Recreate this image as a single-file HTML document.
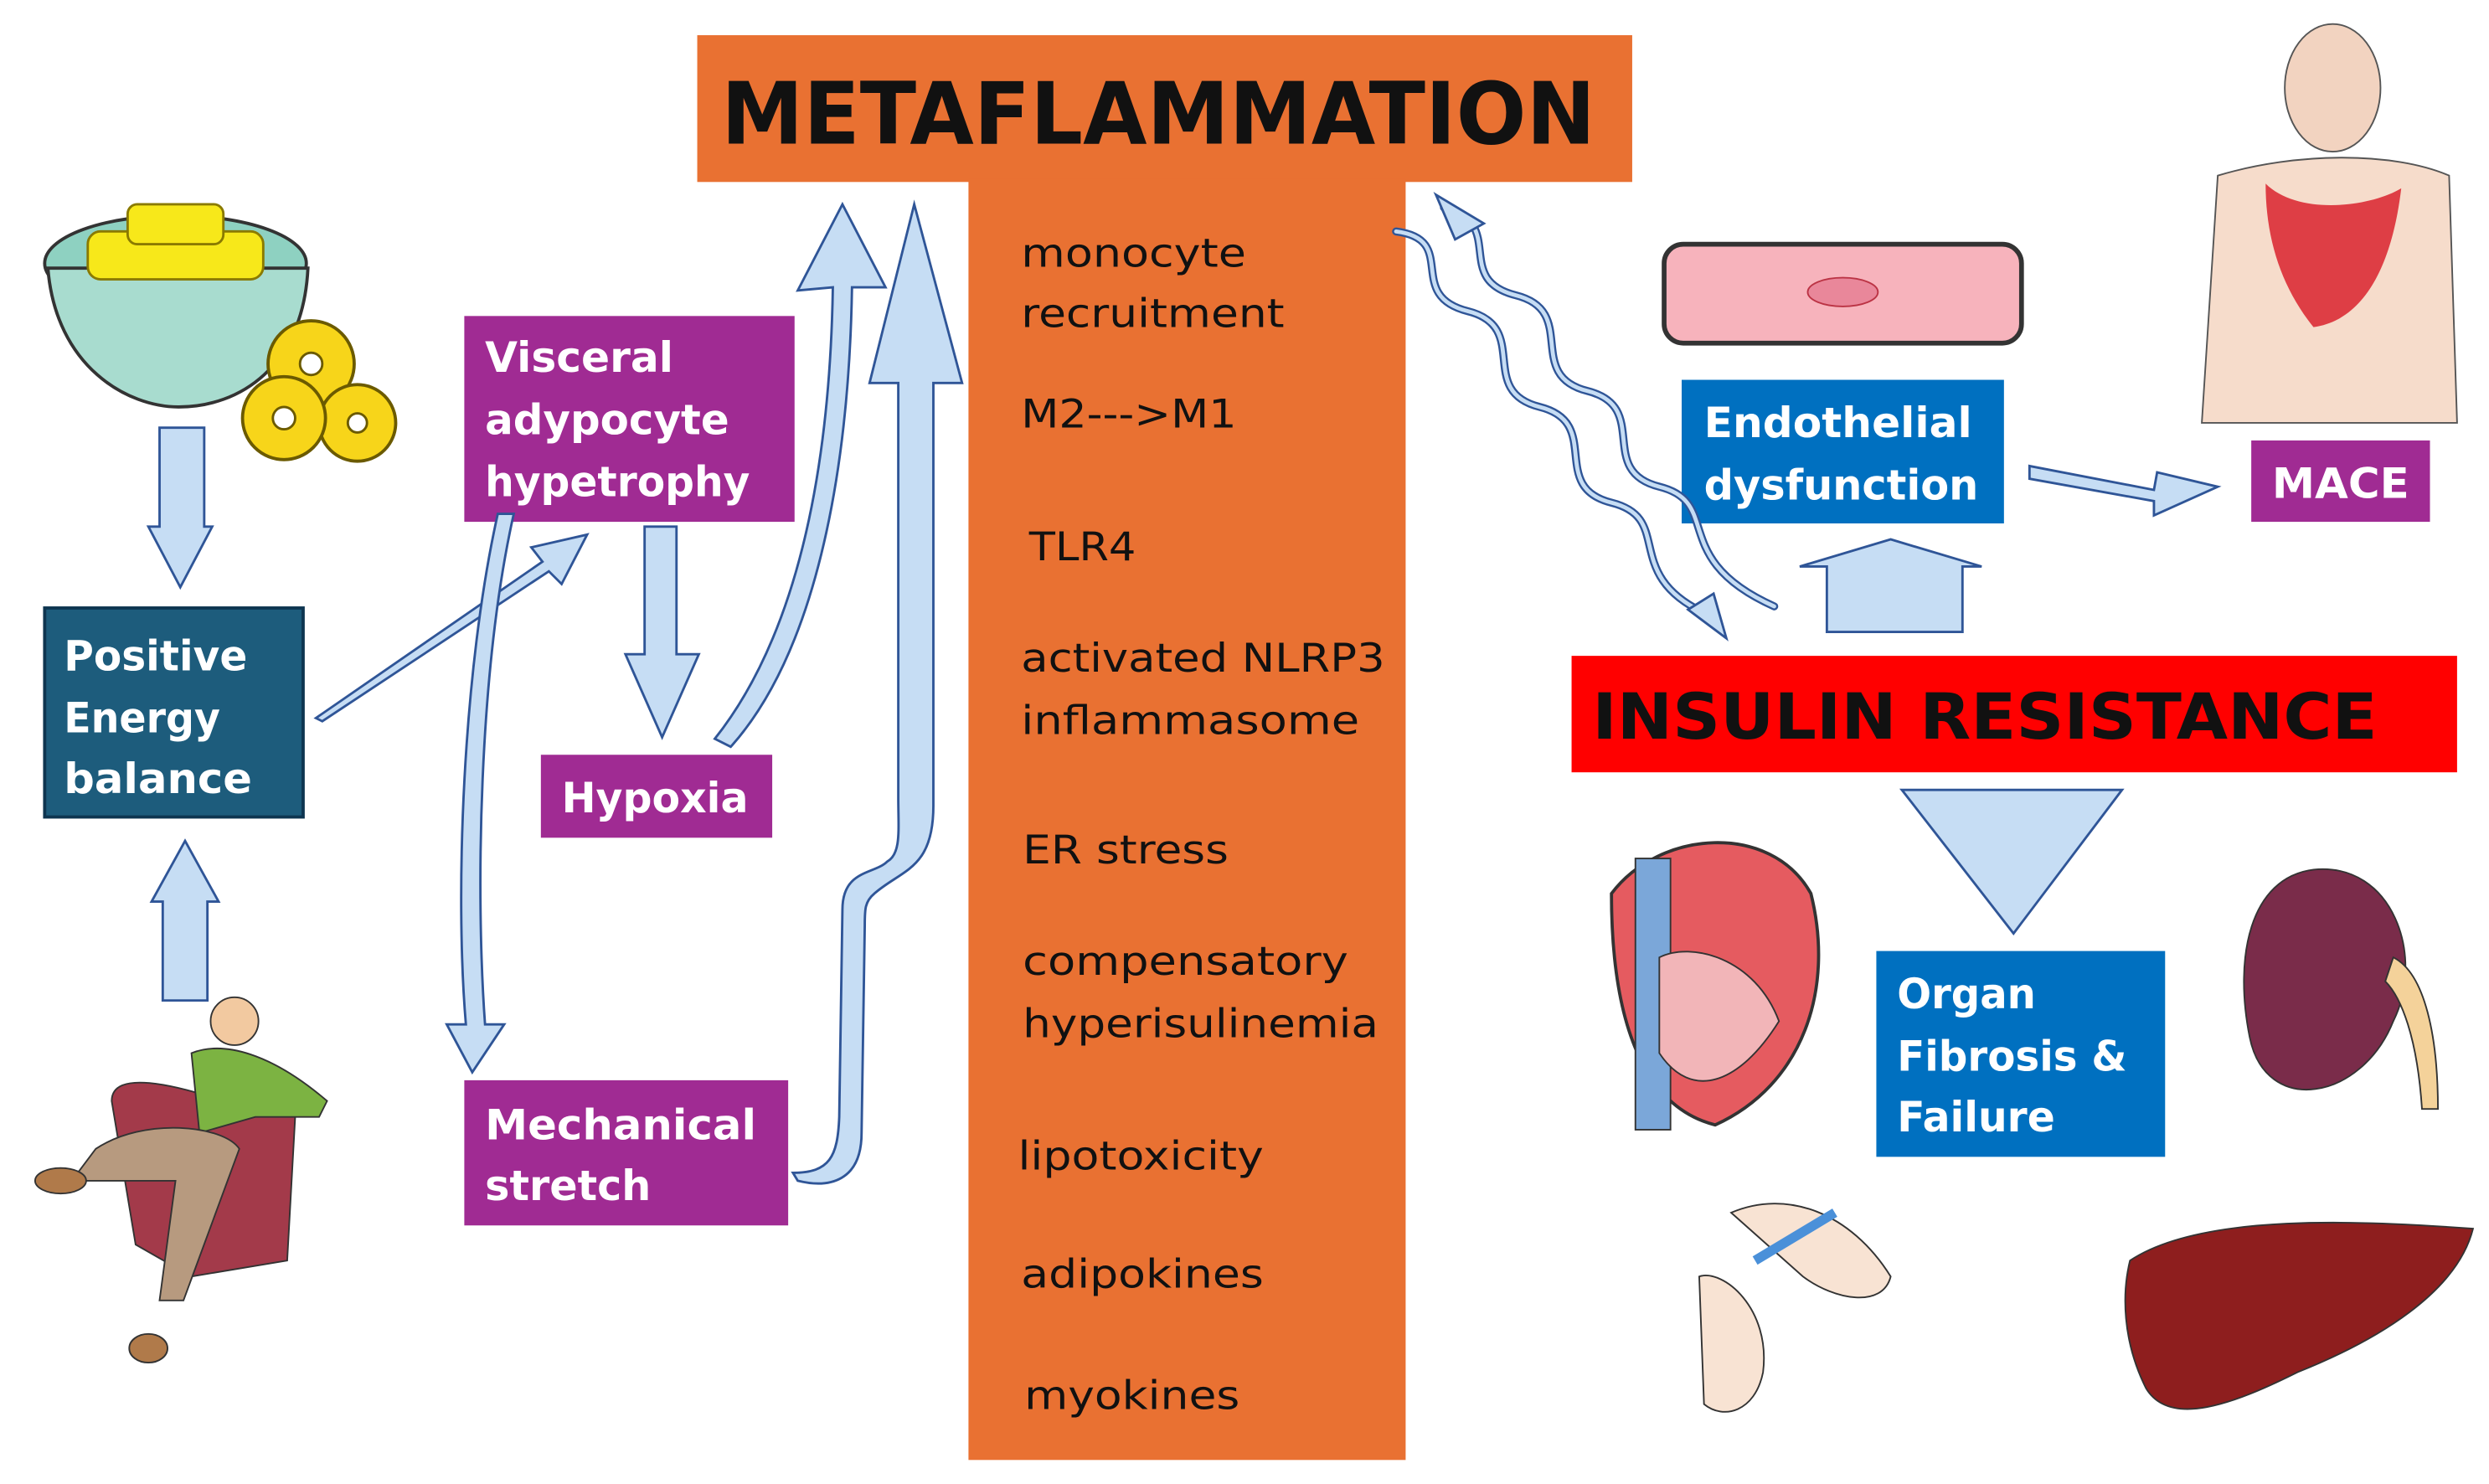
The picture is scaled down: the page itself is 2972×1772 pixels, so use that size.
<!DOCTYPE html>
<html><head><meta charset="utf-8"><style>
html,body{margin:0;padding:0;background:#fff;}
svg{display:block;}
text{font-family:"DejaVu Sans","Liberation Sans",sans-serif;}
</style></head><body>
<svg width="2972" height="1772" viewBox="0 0 1560 930" xmlns="http://www.w3.org/2000/svg">
<rect width="1560" height="930" fill="#fff"/>
<rect x="437" y="22" width="586" height="92" fill="#E97132"/>
<rect x="607" y="112" width="274" height="803" fill="#E97132"/>
<text x="452" y="90" font-size="54" font-weight="bold" fill="#111" textLength="548" lengthAdjust="spacingAndGlyphs">METAFLAMMATION</text>
<g font-size="25" fill="#111">
<text x="640" y="167" textLength="141" lengthAdjust="spacingAndGlyphs">monocyte</text>
<text x="640" y="205" textLength="165" lengthAdjust="spacingAndGlyphs">recruitment</text>
<text x="640" y="268" textLength="135" lengthAdjust="spacingAndGlyphs">M2---&gt;M1</text>
<text x="645" y="351" textLength="67" lengthAdjust="spacingAndGlyphs">TLR4</text>
<text x="640" y="421" textLength="228" lengthAdjust="spacingAndGlyphs">activated NLRP3</text>
<text x="640" y="460" textLength="212" lengthAdjust="spacingAndGlyphs">inflammasome</text>
<text x="641" y="541" textLength="129" lengthAdjust="spacingAndGlyphs">ER stress</text>
<text x="641" y="611" textLength="204" lengthAdjust="spacingAndGlyphs">compensatory</text>
<text x="641" y="650" textLength="223" lengthAdjust="spacingAndGlyphs">hyperisulinemia</text>
<text x="638" y="733" textLength="154" lengthAdjust="spacingAndGlyphs">lipotoxicity</text>
<text x="640" y="807" textLength="152" lengthAdjust="spacingAndGlyphs">adipokines</text>
<text x="642" y="883" textLength="135" lengthAdjust="spacingAndGlyphs">myokines</text>
</g>
<rect x="985" y="411" width="555" height="73" fill="#FF0000"/>
<text x="998" y="463" font-size="40" font-weight="bold" fill="#111" textLength="492" lengthAdjust="spacingAndGlyphs">INSULIN RESISTANCE</text>
<g fill="#A02B93">
<rect x="291" y="198" width="207" height="129"/>
<rect x="339" y="473" width="145" height="52"/>
<rect x="291" y="677" width="203" height="91"/>
<rect x="1411" y="276" width="112" height="51"/>
</g>
<g fill="#fff" font-weight="bold" font-size="26">
<text x="304" y="233" textLength="118" lengthAdjust="spacingAndGlyphs">Visceral</text>
<text x="304" y="272" textLength="153" lengthAdjust="spacingAndGlyphs">adypocyte</text>
<text x="304" y="311" textLength="166" lengthAdjust="spacingAndGlyphs">hypetrophy</text>
<text x="352" y="509" textLength="117" lengthAdjust="spacingAndGlyphs">Hypoxia</text>
<text x="304" y="714" textLength="170" lengthAdjust="spacingAndGlyphs">Mechanical</text>
<text x="304" y="752" textLength="104" lengthAdjust="spacingAndGlyphs">stretch</text>
<text x="1424" y="312" textLength="86" lengthAdjust="spacingAndGlyphs">MACE</text>
</g>
<rect x="28" y="381" width="162" height="131" fill="#1D5C7C" stroke="#0E3550" stroke-width="2"/>
<g fill="#fff" font-weight="bold" font-size="26">
<text x="40" y="420" textLength="115" lengthAdjust="spacingAndGlyphs">Positive</text>
<text x="40" y="459" textLength="98" lengthAdjust="spacingAndGlyphs">Energy</text>
<text x="40" y="497" textLength="118" lengthAdjust="spacingAndGlyphs">balance</text>
</g>
<rect x="1054" y="238" width="202" height="90" fill="#0070C0"/>
<g fill="#fff" font-weight="bold" font-size="26">
<text x="1068" y="274" textLength="168" lengthAdjust="spacingAndGlyphs">Endothelial</text>
<text x="1068" y="313" textLength="172" lengthAdjust="spacingAndGlyphs">dysfunction</text>
</g>
<rect x="1176" y="596" width="181" height="129" fill="#0070C0"/>
<g fill="#fff" font-weight="bold" font-size="26">
<text x="1189" y="632" textLength="87" lengthAdjust="spacingAndGlyphs">Organ</text>
<text x="1189" y="671" textLength="144" lengthAdjust="spacingAndGlyphs">Fibrosis &amp;</text>
<text x="1189" y="709" textLength="99" lengthAdjust="spacingAndGlyphs">Failure</text>
</g>
<g fill="#C6DDF4" stroke="#2F5597" stroke-width="1.5" stroke-linejoin="miter">
<polygon points="100,268 128,268 128,330 133,330 113,368 93,330 100,330"/>
<polygon points="102,627 130,627 130,565 137,565 116,527 95,565 102,565"/>
<polygon points="198,450 340,352 333,343 368,335 352,366 344,358 202,452"/>
<polygon points="404,330 424,330 424,410 438,410 415,462 392,410 404,410"/>
<path d="M312,322 C290,420 285,560 292,642 L280,642 L296,672 L316,642 L304,642 C298,560 300,420 322,322 Z"/>
<path d="M448,463 C498,400 520,300 522,180 L500,182 L528,128 L555,180 L534,180 C532,300 510,410 458,468 Z"/>
<path d="M497,735 C520,735 525,725 526,700 L528,570 C528,545 548,548 556,540 C565,535 563,520 563,500 L563,240 L545,240 L573,128 L603,240 L585,240 L585,505 C585,545 565,545 548,560 C542,565 542,570 542,580 L540,710 C540,740 520,745 500,740 Z"/>
<polygon points="1128,355 1145,355 1145,396 1230,396 1230,355 1242,355 1185,338"/>
<polygon points="1272,292 1350,307 1352,296 1390,305 1350,323 1350,314 1272,300"/>
<polygon points="1192,495 1330,495 1262,585"/>
</g>
<g fill="none" stroke="#2F5597" stroke-width="5" stroke-linecap="round">
<path d="M875,145 C915,150 880,185 920,195 C960,205 925,245 965,255 C1005,265 970,305 1010,315 C1050,325 1015,360 1070,385"/>
<path d="M905,130 C945,140 910,175 950,185 C990,195 955,235 995,245 C1035,255 1000,295 1040,305 C1080,315 1045,350 1112,380"/>
</g>
<g fill="none" stroke="#C6DDF4" stroke-width="2.5" stroke-linecap="round">
<path d="M875,145 C915,150 880,185 920,195 C960,205 925,245 965,255 C1005,265 970,305 1010,315 C1050,325 1015,360 1070,385"/>
<path d="M905,130 C945,140 910,175 950,185 C990,195 955,235 995,245 C1035,255 1000,295 1040,305 C1080,315 1045,350 1112,380"/>
</g>
<polygon points="900,122 930,140 912,150" fill="#C6DDF4" stroke="#2F5597" stroke-width="1.5"/>
<polygon points="1082,400 1058,382 1074,372" fill="#C6DDF4" stroke="#2F5597" stroke-width="1.5"/>
<ellipse cx="110" cy="165" rx="82" ry="30" fill="#8ED1C1" stroke="#333" stroke-width="2"/>
<path d="M30,168 C35,230 80,255 112,255 C150,255 190,230 193,168 Z" fill="#A8DCCF" stroke="#333" stroke-width="2"/>
<g stroke="#8a7a00" stroke-width="1.5" fill="#F7E81A">
<rect x="55" y="145" width="110" height="30" rx="8"/>
<rect x="80" y="128" width="60" height="25" rx="6"/>
</g>
<g fill="#F7D51A" stroke="#6b5a00" stroke-width="2">
<circle cx="195" cy="228" r="27"/><circle cx="224" cy="265" r="24"/><circle cx="178" cy="262" r="26"/>
</g>
<g fill="#fff" stroke="#6b5a00" stroke-width="1.5">
<circle cx="195" cy="228" r="7"/><circle cx="224" cy="265" r="6"/><circle cx="178" cy="262" r="7"/>
</g>
<path d="M70,690 C70,670 110,680 140,690 L185,700 L180,790 L120,800 L85,780 Z" fill="#A33A4A" stroke="#333"/>
<circle cx="147" cy="640" r="15" fill="#F2C9A0" stroke="#333"/>
<path d="M120,660 C140,652 170,660 205,690 L200,700 L160,700 L125,710 Z" fill="#7CB342" stroke="#333"/>
<path d="M60,720 C90,700 140,705 150,720 L115,815 L100,815 L110,740 L45,740 Z" fill="#B79A7F" stroke="#333"/>
<ellipse cx="38" cy="740" rx="16" ry="8" fill="#B07A4A" stroke="#333"/>
<ellipse cx="93" cy="845" rx="12" ry="9" fill="#B07A4A" stroke="#333"/>
<rect x="1043" y="153" width="224" height="62" rx="12" fill="#F7B3BC" stroke="#333" stroke-width="3"/>
<ellipse cx="1155" cy="183" rx="22" ry="9" fill="#E9879A" stroke="#B34"/>
<path d="M1390,110 C1440,95 1500,95 1535,110 L1540,265 L1380,265 Z" fill="#F6DCCB" stroke="#555"/>
<ellipse cx="1462" cy="55" rx="30" ry="40" fill="#F2D3C0" stroke="#555"/>
<path d="M1420,115 C1440,135 1485,130 1505,118 C1500,160 1485,200 1450,205 C1430,180 1420,150 1420,115 Z" fill="#D9222E" opacity="0.85"/>
<path d="M1010,560 C1040,520 1110,515 1135,560 C1150,620 1130,680 1075,705 C1035,695 1010,650 1010,560 Z" fill="#E55B60" stroke="#333" stroke-width="2"/>
<rect x="1025" y="538" width="22" height="170" fill="#7BA7D9" stroke="#333"/>
<path d="M1040,600 C1060,590 1100,600 1115,640 C1090,680 1060,690 1040,660 Z" fill="#F2B5B8" stroke="#333"/>
<path d="M1450,545 C1500,540 1520,600 1500,640 C1480,690 1420,700 1410,650 C1400,600 1410,550 1450,545 Z" fill="#7A2C4A" stroke="#333"/>
<path d="M1500,600 C1520,610 1528,650 1528,695 L1518,695 C1515,650 1505,625 1495,615 Z" fill="#F4D29A" stroke="#333"/>
<path d="M1335,790 C1380,760 1480,765 1550,770 C1540,810 1490,840 1440,860 C1400,880 1360,895 1345,870 C1330,840 1330,810 1335,790 Z" fill="#8E1E1E" stroke="#333"/>
<path d="M1085,760 C1120,745 1160,760 1185,800 C1180,820 1150,815 1130,800 Z" fill="#F8E3D3" stroke="#333"/>
<path d="M1065,800 C1080,795 1110,820 1105,860 C1100,885 1080,890 1068,880 Z" fill="#F8E3D3" stroke="#333"/>
<line x1="1100" y1="790" x2="1150" y2="760" stroke="#4A90D9" stroke-width="6"/>
</svg>
</body></html>
